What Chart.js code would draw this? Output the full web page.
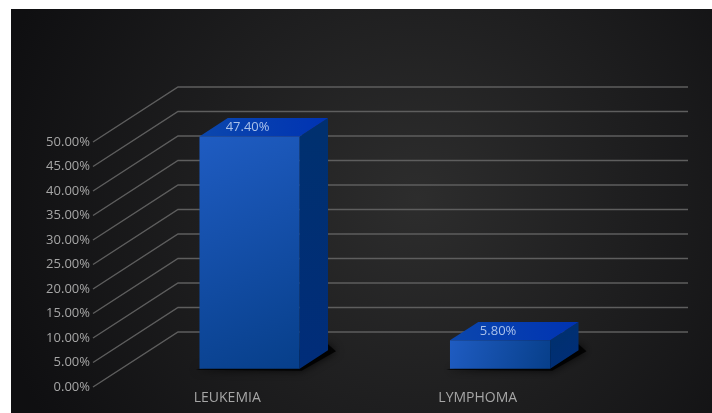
<!DOCTYPE html>
<html lang="en">
<head>
  <meta charset="UTF-8">
  <title>Leukemia vs Lymphoma</title>
  <script src="https://cdn.jsdelivr.net/npm/chart.js"></script>
  <style>
    html, body { margin: 0; padding: 0; background: #ffffff; }
    .wrap { position: absolute; left: 11px; top: 9px; width: 701px; height: 404px; }
  </style>
</head>
<body>
  <div class="wrap">
    <canvas id="chart"></canvas>
  </div>

  <script>
    // Chart data
    const categories = ['LEUKEMIA', 'LYMPHOMA'];
    const values = [0.474, 0.058];
    const yMin = 0;
    const yMax = 0.5;
    const yStep = 0.05;

    const pct = v => (v * 100).toFixed(2) + '%';

    // 3D look: depth of the floor, bars sit in the middle third
    const DEPTH_X = 85;
    const DEPTH_Y = -55;

    function poly(ctx, pts, fill) {
      ctx.beginPath();
      ctx.moveTo(pts[0][0], pts[0][1]);
      for (let i = 1; i < pts.length; i++) ctx.lineTo(pts[i][0], pts[i][1]);
      ctx.closePath();
      ctx.fillStyle = fill;
      ctx.fill();
    }

    const threeD = {
      id: 'threeD',
      beforeDraw(chart) {
        const ctx = chart.ctx;
        const w = chart.width, h = chart.height;
        ctx.save();
        const g = ctx.createRadialGradient(w * 0.58, h * 0.47, 0, w * 0.58, h * 0.47, w * 0.62);
        g.addColorStop(0, '#2d2d2d');
        g.addColorStop(1, '#0f0f11');
        ctx.fillStyle = g;
        ctx.fillRect(0, 0, w, h);
        ctx.restore();
      },
      beforeDatasetsDraw(chart) {
        const ctx = chart.ctx;
        const area = chart.chartArea;
        const y = chart.scales.y;
        ctx.save();
        ctx.strokeStyle = '#5e5e5e';
        ctx.lineWidth = 1.4;
        y.ticks.forEach(t => {
          const py = y.getPixelForValue(t.value);
          const x0 = area.left - 3;
          ctx.beginPath();
          ctx.moveTo(x0, py);
          ctx.lineTo(x0 + DEPTH_X, py + DEPTH_Y);
          ctx.lineTo(area.right + 91, py + DEPTH_Y);
          ctx.stroke();
        });
        ctx.restore();
      },
      afterDatasetsDraw(chart) {
        const ctx = chart.ctx;
        const meta = chart.getDatasetMeta(0);
        const d1x = DEPTH_X / 3, d1y = DEPTH_Y / 3;
        ctx.save();
        meta.data.forEach((bar, i) => {
          const p = bar.getProps(['x', 'y', 'base', 'width'], true);
          const l = p.x - p.width / 2 + d1x;
          const r = p.x + p.width / 2 + d1x;
          const t = p.y + d1y;
          const b = p.base + d1y;

          // soft shadow on the floor
          ctx.save();
          ctx.shadowColor = 'rgba(0,0,0,0.9)';
          ctx.shadowBlur = 8;
          poly(ctx, [[l - 4, b + 1], [r + 2, b + 2], [r + d1x + 8, b + d1y + 1], [r + d1x, b + d1y - 6]], 'rgba(0,0,0,0.85)');
          ctx.restore();

          // front face
          const gf = ctx.createLinearGradient(l, t, r, b);
          gf.addColorStop(0, '#1f5cc2');
          gf.addColorStop(1, '#073f8a');
          poly(ctx, [[l, t], [r, t], [r, b], [l, b]], gf);

          // side face
          const gs = ctx.createLinearGradient(r, t, r + d1x, b);
          gs.addColorStop(0, '#00306f');
          gs.addColorStop(1, '#012d7a');
          poly(ctx, [[r, t], [r + d1x, t + d1y], [r + d1x, b + d1y], [r, b]], gs);

          // top face
          const gt = ctx.createLinearGradient(l, t, r + d1x, t + d1y);
          gt.addColorStop(0, '#0b47ad');
          gt.addColorStop(1, '#0033b3');
          poly(ctx, [[l, t], [l + d1x, t + d1y], [r + d1x, t + d1y], [r, t]], gt);

          // value label on the top face
          ctx.font = "13px 'Open Sans', sans-serif";
          ctx.fillStyle = '#a9c1ea';
          ctx.textAlign = 'center';
          ctx.textBaseline = 'middle';
          ctx.fillText(pct(values[i]), p.x + d1x - 2, t + d1y / 2);
        });
        ctx.restore();
      }
    };

    Chart.defaults.font.family = "'Open Sans', sans-serif";

    new Chart(document.getElementById('chart'), {
      type: 'bar',
      data: {
        labels: categories,
        datasets: [{
          data: values,
          backgroundColor: 'rgba(0,0,0,0)',
          borderWidth: 0,
          barPercentage: 0.4,
          categoryPercentage: 1
        }]
      },
      options: {
        responsive: true,
        maintainAspectRatio: false,
        animation: false,
        layout: { padding: { top: 133, right: 115, left: 0, bottom: 0 } },
        plugins: {
          legend: { display: false },
          tooltip: { enabled: false },
          title: { display: false }
        },
        scales: {
          x: {
            grid: { display: false, drawTicks: false },
            border: { display: false },
            afterFit(scale) { scale.height = 26; },
            ticks: {
              color: '#a6a6a6',
              font: { size: 14 },
              padding: 3,
              labelOffset: 6,
              maxRotation: 0
            }
          },
          y: {
            min: yMin,
            max: yMax,
            grid: { display: false, drawTicks: false },
            border: { display: false },
            afterFit(scale) { scale.width = 85; },
            ticks: {
              stepSize: yStep,
              color: '#a6a6a6',
              font: { size: 13 },
              padding: 6,
              callback: v => pct(v)
            }
          }
        }
      },
      plugins: [threeD]
    });
  </script>
</body>
</html>
